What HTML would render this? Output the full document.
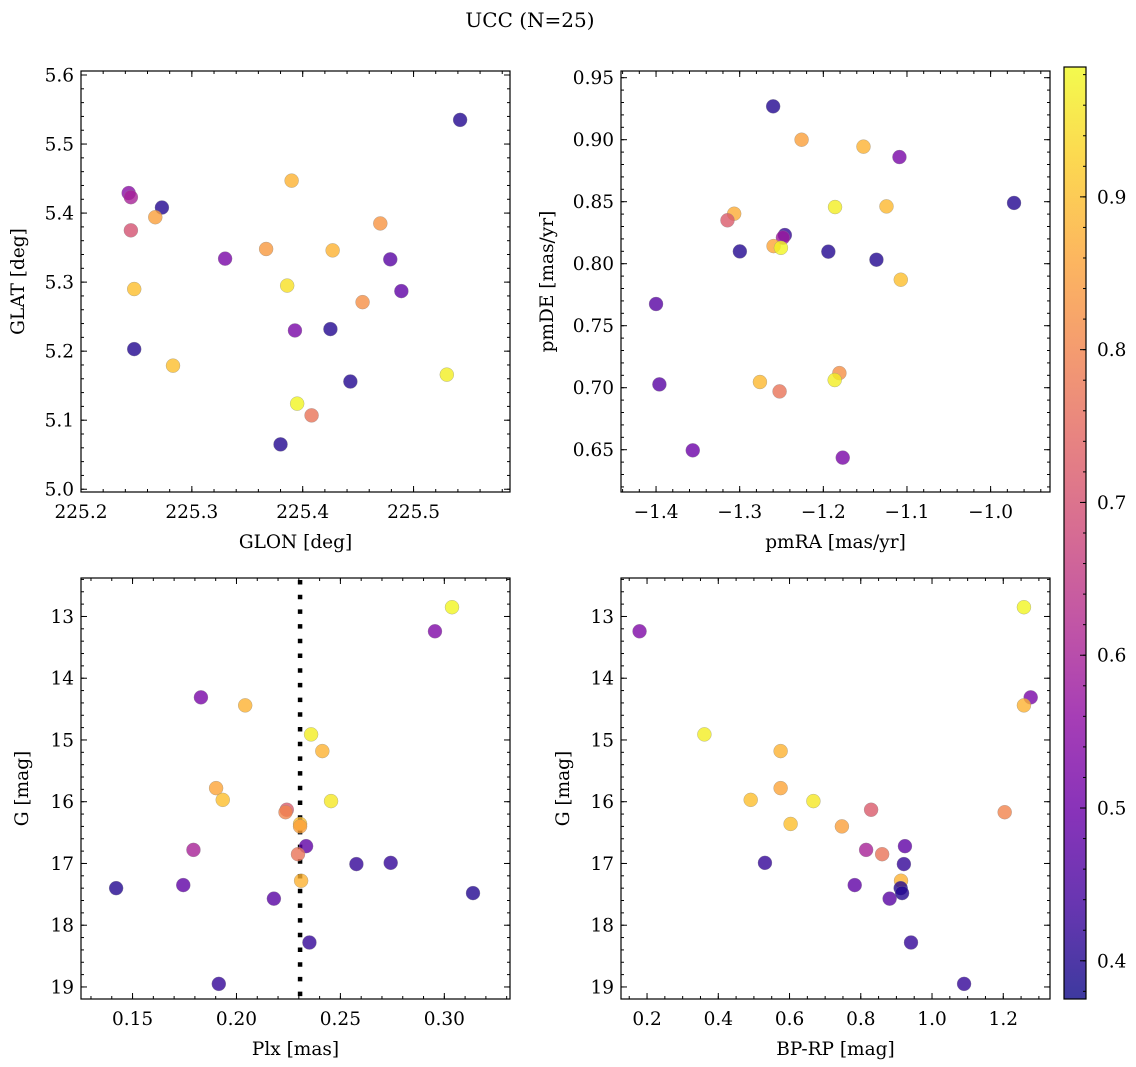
<!DOCTYPE html>
<html><head><meta charset="utf-8">
<style>
html,body{margin:0;padding:0;background:#fff;}
svg{display:block;font-family:"DejaVu Serif","Liberation Serif",serif;}
</style></head>
<body>
<svg id="chart" width="1136" height="1067" viewBox="0 0 1136 1067" xmlns="http://www.w3.org/2000/svg">
<rect x="0" y="0" width="1136" height="1067" fill="#fff"/>
<text x="530" y="27" font-size="20" text-anchor="middle">UCC (N=25)</text>
<defs>
<linearGradient id="plasmaGrad" x1="0" y1="1" x2="0" y2="0">
<stop offset="0" stop-color="#0d0887"/><stop offset="0.1" stop-color="#41049d"/>
<stop offset="0.2" stop-color="#6a00a8"/><stop offset="0.3" stop-color="#8f0da4"/>
<stop offset="0.4" stop-color="#b12a90"/><stop offset="0.5" stop-color="#cc4778"/>
<stop offset="0.6" stop-color="#e16462"/><stop offset="0.7" stop-color="#f2844b"/>
<stop offset="0.8" stop-color="#fca636"/><stop offset="0.9" stop-color="#fcce25"/>
<stop offset="1" stop-color="#f0f921"/>
</linearGradient>
</defs>
</svg>
<script>
// ---- Panel 1: GLON / GLAT ----
const p1Glon = [225.542,225.243,225.245,225.273,225.267,225.245,225.390,225.330,225.367,225.427,225.470,225.479,225.386,225.248,225.489,225.454,225.393,225.425,225.248,225.283,225.443,225.530,225.395,225.408,225.380];
const p1Glat = [5.535,5.429,5.423,5.408,5.394,5.375,5.447,5.334,5.348,5.346,5.385,5.333,5.295,5.290,5.287,5.271,5.230,5.232,5.203,5.179,5.156,5.166,5.124,5.107,5.065];
const p1Prob = [0.40,0.55,0.60,0.40,0.85,0.70,0.88,0.52,0.84,0.88,0.83,0.47,0.95,0.90,0.48,0.82,0.52,0.40,0.40,0.90,0.40,0.97,0.98,0.77,0.40];
const p1XTicks = [225.2,225.3,225.4,225.5];
const p1XTickLabels = ['225.2','225.3','225.4','225.5'];
const p1YTicks = [5.0,5.1,5.2,5.3,5.4,5.5,5.6];
const p1YTickLabels = ['5.0','5.1','5.2','5.3','5.4','5.5','5.6'];

// ---- Panel 2: pmRA / pmDE ----
const p2PmRA = [-1.260,-1.226,-1.152,-1.109,-0.972,-1.186,-1.1245,-1.3066,-1.3146,-1.246,-1.2483,-1.2595,-1.2507,-1.2998,-1.1940,-1.1365,-1.1074,-1.400,-1.396,-1.2758,-1.2523,-1.1808,-1.1864,-1.3561,-1.1768];
const p2PmDE = [0.9269,0.900,0.8944,0.886,0.849,0.8457,0.8462,0.8403,0.835,0.8231,0.821,0.8142,0.8128,0.8099,0.8097,0.8032,0.7871,0.7675,0.7027,0.7046,0.6970,0.7118,0.7062,0.6495,0.6436];
const p2Prob = [0.40,0.85,0.88,0.52,0.40,0.97,0.89,0.87,0.72,0.42,0.58,0.86,0.98,0.40,0.40,0.40,0.90,0.47,0.47,0.89,0.77,0.82,0.97,0.50,0.52];
const p2XTicks = [-1.4,-1.3,-1.2,-1.1,-1.0];
const p2XTickLabels = ['\u22121.4','\u22121.3','\u22121.2','\u22121.1','\u22121.0'];
const p2YTicks = [0.65,0.70,0.75,0.80,0.85,0.90,0.95];
const p2YTickLabels = ['0.65','0.70','0.75','0.80','0.85','0.90','0.95'];

// ---- Panels 3 & 4: shared stars ----
const starG = [12.85,13.24,14.31,14.44,14.91,15.18,15.78,15.97,15.99,16.13,16.17,16.36,16.40,16.72,16.78,16.85,17.01,16.99,17.28,17.40,17.35,17.57,17.48,18.28,18.95];
const starPlx = [0.3037,0.2955,0.1829,0.2042,0.2359,0.2413,0.1902,0.1934,0.2455,0.2242,0.2236,0.2306,0.2306,0.2335,0.1793,0.2296,0.2577,0.2742,0.2311,0.1421,0.1744,0.2180,0.3138,0.2351,0.1915];
const starBPRP = [1.258,0.179,1.277,1.258,0.361,0.575,0.575,0.491,0.667,0.829,1.204,0.603,0.747,0.924,0.815,0.860,0.921,0.531,0.913,0.912,0.783,0.881,0.916,0.941,1.090];
const starProb = [0.98,0.53,0.52,0.88,0.97,0.88,0.86,0.90,0.96,0.72,0.80,0.90,0.85,0.48,0.60,0.77,0.42,0.42,0.88,0.40,0.48,0.47,0.40,0.42,0.42];
const plxMedian = [0.2306];
const p3XTicks = [0.15,0.20,0.25,0.30];
const p3XTickLabels = ['0.15','0.20','0.25','0.30'];
const gTicks = [13,14,15,16,17,18,19];
const gTickLabels = ['13','14','15','16','17','18','19'];
const p4XTicks = [0.2,0.4,0.6,0.8,1.0,1.2];
const p4XTickLabels = ['0.2','0.4','0.6','0.8','1.0','1.2'];
const cbTicks = [0.4,0.5,0.6,0.7,0.8,0.9];
const cbTickLabels = ['0.4','0.5','0.6','0.7','0.8','0.9'];
const cbRange = [0.375,0.985];

const NS = 'http://www.w3.org/2000/svg';
const svg = document.getElementById('chart');
const FS = 18.5;
function mk(tag, parent, attrs){
  const e = document.createElementNS(NS, tag);
  for (const k in attrs) e.setAttribute(k, attrs[k]);
  parent.appendChild(e);
  return e;
}
const stops = [[13,8,135],[65,4,157],[106,0,168],[143,13,164],[177,42,144],[204,71,120],[225,100,98],[242,132,75],[252,166,54],[252,206,37],[240,249,33]];
function plasma(v){
  let t = (v - cbRange[0]) / (cbRange[1] - cbRange[0]);
  t = Math.max(0, Math.min(1, t)) * 10;
  const i = Math.min(9, Math.floor(t)), f = t - i;
  const a = stops[i], b = stops[i+1];
  return 'rgb(' + [0,1,2].map(k => Math.round(a[k] + (b[k]-a[k])*f)).join(',') + ')';
}

function drawPanel(p){
  const g = mk('g', svg, {});
  
  
  const [L, T, R, B] = p.box;
  const sx = v => L + (v - p.xlim[0]) / (p.xlim[1] - p.xlim[0]) * (R - L);
  const sy = v => T + (p.ylim[1] - v) / (p.ylim[1] - p.ylim[0]) * (B - T);
  const tk = mk('g', g, {stroke:'#000','stroke-width':1});
  
  
  const xlo = Math.min(p.xlim[0], p.xlim[1]), xhi = Math.max(p.xlim[0], p.xlim[1]);
  const ylo = Math.min(p.ylim[0], p.ylim[1]), yhi = Math.max(p.ylim[0], p.ylim[1]);
  for (let v = Math.ceil(xlo / p.xMinor - 1e-6) * p.xMinor; v <= xhi + 1e-9; v += p.xMinor){
    const x = sx(v);
    mk('line', tk, {x1:x, y1:B, x2:x, y2:B-3});
    mk('line', tk, {x1:x, y1:T, x2:x, y2:T+3});
  }
  for (let v = Math.ceil(ylo / p.yMinor - 1e-6) * p.yMinor; v <= yhi + 1e-9; v += p.yMinor){
    const y = sy(v);
    mk('line', tk, {x1:L, y1:y, x2:L+3, y2:y});
    mk('line', tk, {x1:R, y1:y, x2:R-3, y2:y});
  }
  p.xTicks.forEach((v, i) => {
    const x = sx(v);
    mk('line', tk, {x1:x, y1:B, x2:x, y2:B-6});
    mk('line', tk, {x1:x, y1:T, x2:x, y2:T+6});
    const t = mk('text', g, {x:x, y:B+26, 'font-size':FS, 'text-anchor':'middle'});
    
    
    t.textContent = p.xLabels[i];
  });
  p.yTicks.forEach((v, i) => {
    const y = sy(v);
    mk('line', tk, {x1:L, y1:y, x2:L+6, y2:y});
    mk('line', tk, {x1:R, y1:y, x2:R-6, y2:y});
    const t = mk('text', g, {x:L-7, y:y+6.5, 'font-size':FS, 'text-anchor':'end'});
    
    
    t.textContent = p.yLabels[i];
  });
  if (p.vline){
    p.vline.forEach(v => {
      const ln = mk('line', g, {x1:sx(v), y1:T+2, x2:sx(v), y2:B, stroke:'#000', 'stroke-width':4.5, 'stroke-dasharray':'4.5 10.2'});
      
      
    });
  }
  p.xs.forEach((xv, i) => {
    const c = mk('circle', g, {cx:sx(xv), cy:sy(p.ys[i]), r:7, fill:plasma(p.cs[i]), 'fill-opacity':0.8, stroke:'#888', 'stroke-opacity':0.6, 'stroke-width':0.5});
    
    
  });
  const fr = mk('rect', g, {x:L, y:T, width:R-L, height:B-T, fill:'none', stroke:'#000', 'stroke-width':1.2});
  
  
  const xl = mk('text', g, {x:(L+R)/2, y:B+56, 'font-size':FS, 'text-anchor':'middle'});
  
  
  xl.textContent = p.xTitle;
  const yx = p.yTitleX, yc = (T+B)/2;
  const yl = mk('text', g, {x:yx, y:yc, 'font-size':FS, 'text-anchor':'middle', transform:'rotate(-90 '+yx+' '+yc+')'});
  
  
  yl.textContent = p.yTitle;
}

drawPanel({name:'glon-glat-panel', box:[81,71,510,492], xlim:[225.2,225.587], ylim:[4.996,5.6058],
  xTicks:p1XTicks, xLabels:p1XTickLabels, yTicks:p1YTicks, yLabels:p1YTickLabels, xMinor:0.02, yMinor:0.02,
  xs:p1Glon, ys:p1Glat, cs:p1Prob, xTitle:'GLON [deg]', yTitle:'GLAT [deg]', yTitleX:24});
drawPanel({name:'pm-panel', box:[621,71,1050,492], xlim:[-1.4419,-0.929], ylim:[0.6159,0.9554],
  xTicks:p2XTicks, xLabels:p2XTickLabels, yTicks:p2YTicks, yLabels:p2YTickLabels, xMinor:0.02, yMinor:0.01,
  xs:p2PmRA, ys:p2PmDE, cs:p2Prob, xTitle:'pmRA [mas/yr]', yTitle:'pmDE [mas/yr]', yTitleX:553});
drawPanel({name:'plx-g-panel', box:[81,578,510,999], xlim:[0.1252,0.3316], ylim:[19.195,12.377],
  xTicks:p3XTicks, xLabels:p3XTickLabels, yTicks:gTicks, yLabels:gTickLabels, xMinor:0.01, yMinor:0.2,
  xs:starPlx, ys:starG, cs:starProb, vline:plxMedian, xTitle:'Plx [mas]', yTitle:'G [mag]', yTitleX:28});
drawPanel({name:'cmd-panel', box:[621,578,1050,999], xlim:[0.1269,1.3312], ylim:[19.195,12.377],
  xTicks:p4XTicks, xLabels:p4XTickLabels, yTicks:gTicks, yLabels:gTickLabels, xMinor:0.05, yMinor:0.2,
  xs:starBPRP, ys:starG, cs:starProb, xTitle:'BP-RP [mag]', yTitle:'G [mag]', yTitleX:569});

(function(){
  const L=1064, T=67, R=1086, B=999;
  const g = mk('g', svg, {});
  
  
  const r = mk('rect', g, {x:L, y:T, width:R-L, height:B-T, fill:'url(#plasmaGrad)', 'fill-opacity':0.8});
  
  
  const sy = v => B - (v - cbRange[0]) / (cbRange[1] - cbRange[0]) * (B - T);
  for (let v = Math.ceil(cbRange[0]/0.02 - 1e-6)*0.02; v <= cbRange[1]; v += 0.02){
    mk('line', g, {x1:R, y1:sy(v), x2:R-3, y2:sy(v), stroke:'#000', 'stroke-width':1});
  }
  cbTicks.forEach((v, i) => {
    mk('line', g, {x1:R, y1:sy(v), x2:R-6, y2:sy(v), stroke:'#000', 'stroke-width':1});
    const t = mk('text', g, {x:R+11, y:sy(v)+6.5, 'font-size':FS});
    
    
    t.textContent = cbTickLabels[i];
  });
  const fr = mk('rect', g, {x:L, y:T, width:R-L, height:B-T, fill:'none', stroke:'#000', 'stroke-width':1.2});
  
  
})();
</script>
</body></html>
